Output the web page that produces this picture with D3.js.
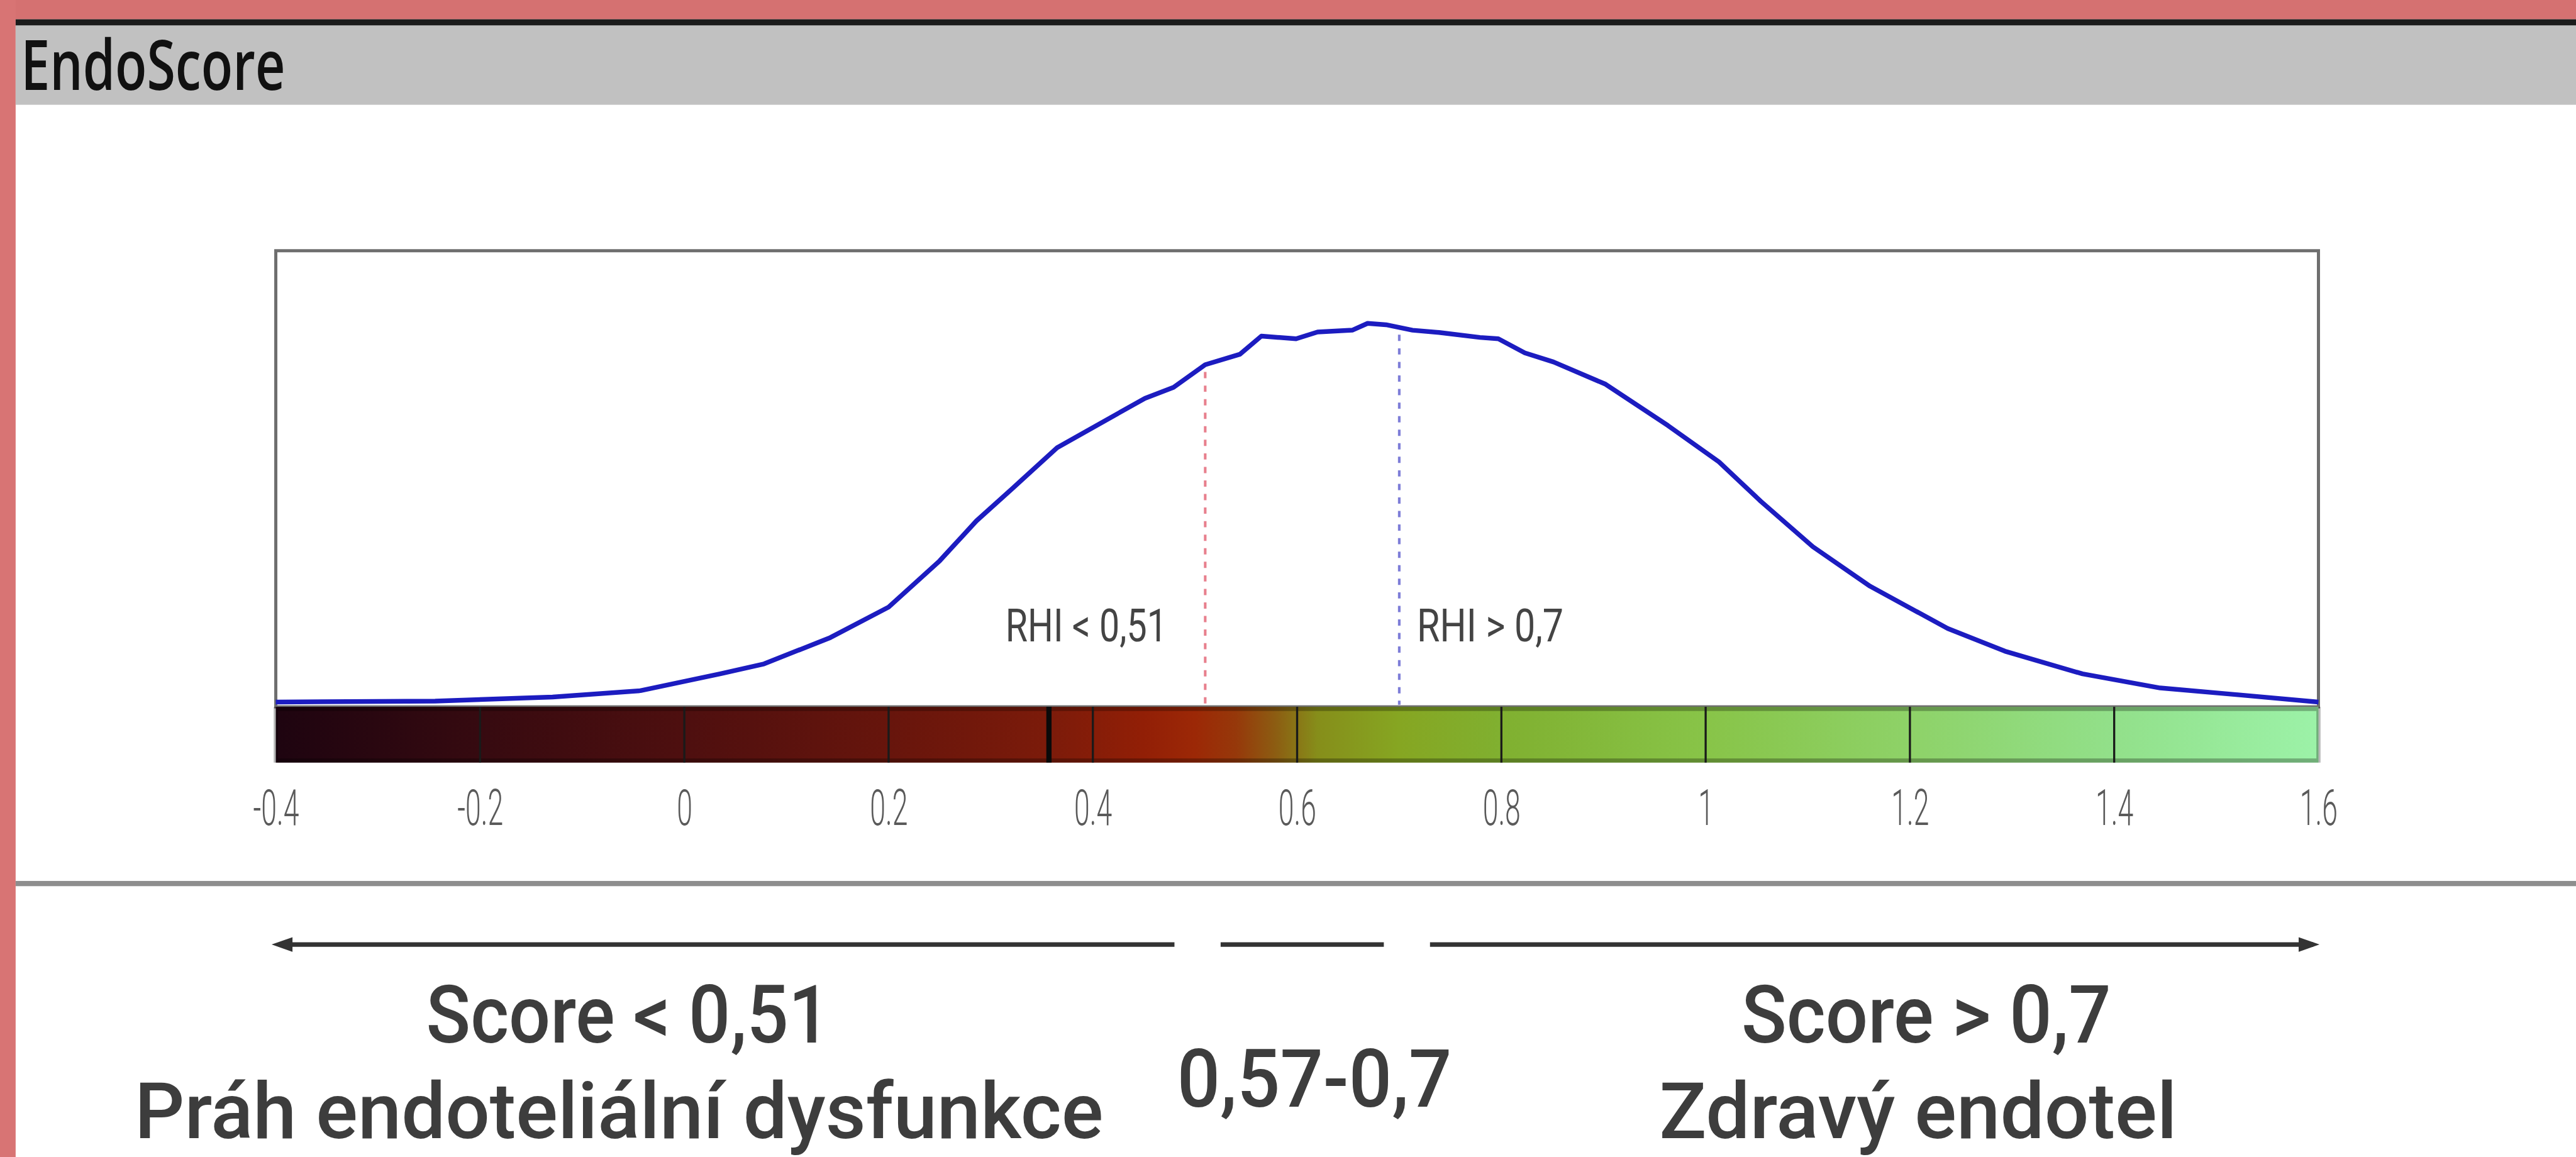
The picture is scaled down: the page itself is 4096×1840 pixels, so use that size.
<!DOCTYPE html>
<html>
<head>
<meta charset="utf-8">
<script src="https://cdn.jsdelivr.net/npm/d3@7"></script>
<style>
  html, body { margin: 0; padding: 0; background: #fff; overflow: hidden; }
</style>
</head>
<body>
<div id="chart"></div>
<script>
// EndoScore distribution with RHI thresholds

// curve (score, relative density 0..100)
const scoreX = [-0.4, -0.244, -0.129, -0.043, 0.035, 0.078, 0.143, 0.2, 0.25, 0.286,
  0.322, 0.365, 0.394, 0.451, 0.479, 0.51, 0.544, 0.565, 0.599, 0.62,
  0.654, 0.669, 0.687, 0.713, 0.739, 0.779, 0.797, 0.823, 0.851, 0.902,
  0.963, 1.013, 1.054, 1.105, 1.161, 1.237, 1.293, 1.369, 1.445, 1.521, 1.6];
const density = [0.6, 0.8, 1.7, 3.1, 6.8, 9.0, 14.8, 21.5, 31.7, 40.5,
  47.8, 56.6, 60.3, 67.5, 69.9, 74.9, 77.2, 81.2, 80.6, 82.1,
  82.5, 84.0, 83.7, 82.5, 82.0, 80.9, 80.6, 77.5, 75.5, 70.6,
  61.5, 53.5, 44.8, 34.8, 26.1, 16.8, 11.8, 6.8, 3.7, 2.2, 0.6];

const tickValues = [-0.4, -0.2, 0, 0.2, 0.4, 0.6, 0.8, 1, 1.2, 1.4, 1.6];
const dividerValues = [-0.2, 0, 0.2, 0.4, 0.6, 0.8, 1, 1.2, 1.4];
const markerValue = 0.357;

const thresholds = [0.51, 0.7];
const thresholdLabels = ["RHI < 0,51", "RHI > 0,7"];

const gradientValues = [-0.4, -0.2, 0, 0.2, 0.36, 0.45, 0.5, 0.54, 0.58, 0.62, 0.7, 0.8, 1.0, 1.2, 1.4, 1.6];
const gradientColors = ["#1e0410", "#360a10", "#4e0f0f", "#67150c", "#7c1b0a", "#921f06", "#9c2806",
  "#96380a", "#8c5e12", "#868e1a", "#86a622", "#80b030", "#88c448", "#8ed268", "#92e08a", "#9cf2a8"];

const zoneRanges = [[-0.4, 0.485], [0.52, 0.69], [0.725, 1.6]];
const zoneTitles = ["Score < 0,51", "0,57-0,7", "Score > 0,7"];
const zoneTitleAt = [-0.055, 0.617, 1.216];
const zoneSubtitles = ["Práh endoteliální dysfunkce", "", "Zdravý endotel"];
const zoneSubtitleAt = [-0.064, null, 1.208];

// layout in reference pixels, scaled to the window at the end
const W = 4941, H = 2220;
const S = 4096 / W;
const plot = { left: 529, right: 4447, top: 481, bottom: 1352 };
const bar = { top: 1356, bottom: 1463 };

const svg = d3.select("#chart")
  .append("svg")
  .attr("width", 4096)
  .attr("height", 1840)
  .style("display", "block");

const root = svg.append("g").attr("transform", `scale(${S})`);

// frame + header
root.append("rect").attr("x", 0).attr("y", 0).attr("width", W).attr("height", H).attr("fill", "#fff");
root.append("rect").attr("x", 0).attr("y", 0).attr("width", W).attr("height", 37).attr("fill", "#d57171");
root.append("rect").attr("x", 0).attr("y", 0).attr("width", 30).attr("height", H).attr("fill", "#d87474");
root.append("rect").attr("x", 30).attr("y", 37).attr("width", W - 30).attr("height", 12).attr("fill", "#1b1b1b");
root.append("rect").attr("x", 30).attr("y", 49).attr("width", W - 30).attr("height", 152).attr("fill", "#c1c1c1");
root.append("text")
  .attr("x", 40).attr("y", 173)
  .attr("font-family", "'Open Sans', sans-serif")
  .attr("font-weight", 600)
  .attr("font-size", 133)
  .attr("textLength", 507)
  .attr("lengthAdjust", "spacingAndGlyphs")
  .attr("fill", "#111")
  .text("EndoScore");

// scales
const x = d3.scaleLinear().domain([-0.4, 1.6]).range([plot.left, plot.right]);
const y = d3.scaleLinear().domain([0, 100]).range([plot.bottom, plot.top]);

// plot box
root.append("rect")
  .attr("x", plot.left).attr("y", plot.top)
  .attr("width", plot.right - plot.left).attr("height", bar.top - plot.top)
  .attr("fill", "#fff")
  .attr("stroke", "#6e6e6e")
  .attr("stroke-width", 6);

// colour bar
const defs = svg.append("defs");
const grad = defs.append("linearGradient")
  .attr("id", "scoreGrad")
  .attr("gradientUnits", "userSpaceOnUse")
  .attr("x1", x(-0.4)).attr("x2", x(1.6)).attr("y1", 0).attr("y2", 0);
grad.selectAll("stop")
  .data(gradientValues)
  .enter().append("stop")
  .attr("offset", d => (d + 0.4) / 2)
  .attr("stop-color", (d, i) => gradientColors[i]);

root.append("rect")
  .attr("x", x(-0.4)).attr("y", bar.top)
  .attr("width", x(1.6) - x(-0.4)).attr("height", bar.bottom - bar.top)
  .attr("fill", "url(#scoreGrad)");
root.append("rect")
  .attr("x", x(-0.4)).attr("y", bar.top + 4)
  .attr("width", x(1.6) - x(-0.4)).attr("height", bar.bottom - bar.top - 8)
  .attr("fill", "none")
  .attr("stroke", "rgba(0,0,0,0.28)")
  .attr("stroke-width", 8);

root.selectAll(".divider")
  .data(dividerValues)
  .enter().append("line")
  .attr("class", "divider")
  .attr("x1", d => x(d)).attr("x2", d => x(d))
  .attr("y1", bar.top).attr("y2", bar.bottom)
  .attr("stroke", "#1a1a1a")
  .attr("stroke-width", 4);

root.append("line")
  .attr("x1", x(markerValue)).attr("x2", x(markerValue))
  .attr("y1", bar.top).attr("y2", bar.bottom)
  .attr("stroke", "#0a0a0a")
  .attr("stroke-width", 10);

// axis labels under the bar
const axis = d3.axisBottom(x)
  .tickValues(tickValues)
  .tickSize(0)
  .tickFormat(d => String(d));

const axisG = root.append("g")
  .attr("transform", `translate(0,${bar.bottom})`)
  .call(axis);
axisG.select(".domain").remove();
axisG.selectAll("text")
  .attr("y", 120)
  .attr("dy", null)
  .attr("transform", "scale(0.56,1)")
  .attr("font-family", "Roboto, sans-serif")
  .attr("font-weight", 300)
  .attr("font-size", 96)
  .attr("fill", "#5a5a5a");

// threshold lines
const bisect = d3.bisector(d => d).left;
function densityAt(v) {
  const i = Math.max(1, Math.min(scoreX.length - 1, bisect(scoreX, v)));
  const t = (v - scoreX[i - 1]) / (scoreX[i] - scoreX[i - 1]);
  return density[i - 1] + (density[i] - density[i - 1]) * t;
}

const thresholdColors = ["#e8808e", "#7e7ed8"];
root.selectAll(".threshold")
  .data(thresholds)
  .enter().append("line")
  .attr("class", "threshold")
  .attr("x1", d => x(d)).attr("x2", d => x(d))
  .attr("y1", d => y(densityAt(d)) + 14)
  .attr("y2", bar.top - 4)
  .attr("stroke", (d, i) => thresholdColors[i])
  .attr("stroke-width", 5)
  .attr("stroke-dasharray", "12,14");

root.selectAll(".thrLabel")
  .data(thresholds)
  .enter().append("text")
  .attr("class", "thrLabel")
  .attr("x", (d, i) => i === 0 ? x(d) - 73 : x(d) + 34)
  .attr("y", 1230)
  .attr("text-anchor", (d, i) => i === 0 ? "end" : "start")
  .attr("font-family", "Roboto, sans-serif")
  .attr("font-size", 88)
  .attr("textLength", (d, i) => i === 0 ? 310 : 281)
  .attr("lengthAdjust", "spacingAndGlyphs")
  .attr("fill", "#444")
  .text((d, i) => thresholdLabels[i]);

// distribution curve
const line = d3.line()
  .x(d => x(d[0]))
  .y(d => y(d[1]))
  .curve(d3.curveLinear);

root.append("path")
  .datum(d3.zip(scoreX, density))
  .attr("d", line)
  .attr("fill", "none")
  .attr("stroke", "#1c1cc0")
  .attr("stroke-width", 9)
  .attr("stroke-linejoin", "round");

// separator
root.append("rect")
  .attr("x", 30).attr("y", 1690)
  .attr("width", W - 30).attr("height", 10)
  .attr("fill", "#8e8e8e");

// zone arrows
const arrowY = 1812;
const zones = root.append("g");
zones.selectAll(".zone")
  .data(zoneRanges)
  .enter().append("line")
  .attr("class", "zone")
  .attr("x1", d => x(d[0]) + 10).attr("x2", d => x(d[1]) - 10)
  .attr("y1", arrowY).attr("y2", arrowY)
  .attr("stroke", "#333")
  .attr("stroke-width", 9);

const first = zoneRanges[0], last = zoneRanges[zoneRanges.length - 1];
zones.append("path")
  .attr("d", `M${x(first[0]) - 8},${arrowY} l40,-14 l0,28 z`)
  .attr("fill", "#333");
zones.append("path")
  .attr("d", `M${x(last[1]) + 2},${arrowY} l-40,-14 l0,28 z`)
  .attr("fill", "#333");

// zone texts
const titleWidth = [775, 527, 709];
const subWidth = [1858, 0, 993];
zones.selectAll(".zoneTitle")
  .data(zoneTitles)
  .enter().append("text")
  .attr("class", "zoneTitle")
  .attr("x", (d, i) => x(zoneTitleAt[i]))
  .attr("y", (d, i) => zoneSubtitles[i] ? 2000 : 2123)
  .attr("text-anchor", "middle")
  .attr("font-family", "Roboto, sans-serif")
  .attr("font-weight", 500)
  .attr("font-size", 155)
  .attr("textLength", (d, i) => titleWidth[i])
  .attr("lengthAdjust", "spacingAndGlyphs")
  .attr("fill", "#3d3d3d")
  .text(d => d);

zones.selectAll(".zoneSub")
  .data(zoneSubtitles.map((t, i) => ({ t, i })).filter(d => d.t))
  .enter().append("text")
  .attr("class", "zoneSub")
  .attr("x", d => x(zoneSubtitleAt[d.i]))
  .attr("y", 2184)
  .attr("text-anchor", "middle")
  .attr("font-family", "Roboto, sans-serif")
  .attr("font-weight", 500)
  .attr("font-size", 150)
  .attr("textLength", d => subWidth[d.i])
  .attr("lengthAdjust", "spacingAndGlyphs")
  .attr("fill", "#3d3d3d")
  .text(d => d.t);
</script>
</body>
</html>
